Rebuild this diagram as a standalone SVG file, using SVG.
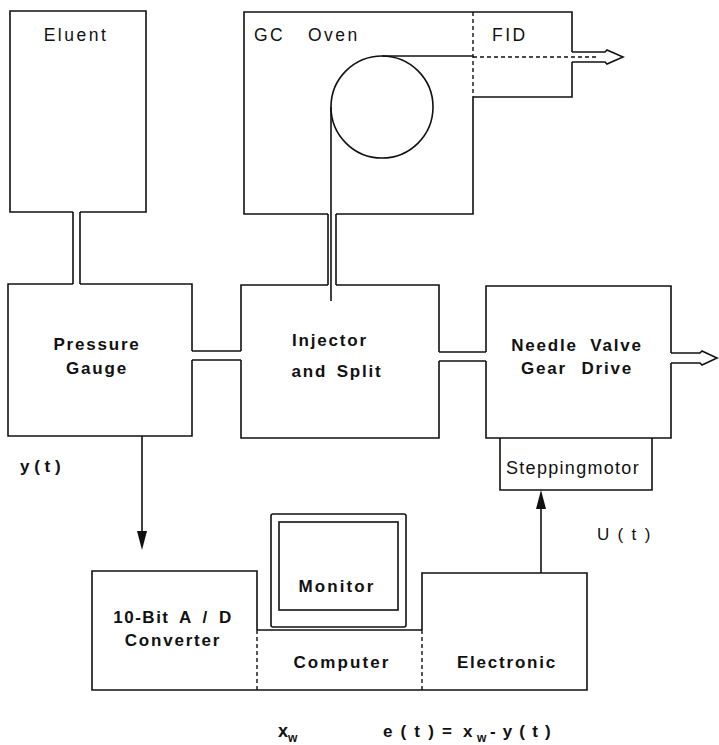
<svg xmlns="http://www.w3.org/2000/svg" width="719" height="745" viewBox="0 0 719 745">
<style>
.ln{fill:none;stroke:#111;stroke-width:1.6;stroke-linejoin:miter}
.ds{fill:none;stroke:#111;stroke-width:1.4;stroke-dasharray:4 3}
.t{font-family:"Liberation Sans",Arial,sans-serif;font-size:17px;fill:#111}
.r{letter-spacing:2.5px;font-size:17.5px}
.b{font-weight:bold;letter-spacing:1.8px}
.m{text-anchor:middle}
.ah{fill:#111;stroke:none}
</style>
<rect width="719" height="745" fill="#fff"/>
<g id="eluent">
<path class="ln" d="M73,212 H10 V11 H146 V212 H80"/>
<text class="t r m" x="76" y="41">Eluent</text>
</g>
<g id="gc-oven">
<path class="ln" d="M328,214 H244 V12 H473 M473,97 V214 H336"/>
<path class="ds" d="M473,12 V97"/>
<text class="t r" x="254" y="41">GC</text>
<text class="t r" x="308" y="41">Oven</text>
<circle class="ln" cx="382" cy="107" r="51"/>
</g>
<g id="fid">
<path class="ln" d="M473,12 H572 V52 M572,62 V97 H473"/>
<text class="t r" x="492" y="41">FID</text>
</g>
<g id="pressure-gauge">
<path class="ln" d="M73,284 H8 V436 H192 V360 M192,351 V284 H80"/>
<text class="t b m" x="97" y="350">Pressure</text>
<text class="t b m" x="97" y="374">Gauge</text>
</g>
<g id="injector">
<path class="ln" d="M241,351 V285 H328 M336,285 H439 V352 M439,361 V438 H241 V360"/>
<text class="t b m" x="330" y="346">Injector</text>
<text class="t b m" x="337" y="377" style="word-spacing:3px">and Split</text>
</g>
<g id="needle-valve">
<path class="ln" d="M486,352 V286 H671 V353 M671,363 V438 H486 V361"/>
<text class="t b m" x="577" y="351" style="word-spacing:6px">Needle Valve</text>
<text class="t b m" x="577" y="374" style="word-spacing:8px">Gear Drive</text>
</g>
<g id="steppingmotor">
<path class="ln" d="M500,438 V490 H652 V438"/>
<text class="t m" x="573" y="474" style="font-size:18px;letter-spacing:1.3px">Steppingmotor</text>
</g>
<g id="ad-converter">
<path class="ln" d="M257,630 V571 H92 V690 H257"/>
<path class="ds" d="M257,630 V690"/>
<text class="t b m" x="173" y="623" style="letter-spacing:1.5px;word-spacing:4px">10-Bit A / D</text>
<text class="t b m" x="173" y="646">Converter</text>
</g>
<g id="monitor">
<rect class="ln" x="271" y="514" width="135" height="113" rx="2"/>
<rect class="ln" x="279" y="522" width="119" height="88"/>
<text class="t b m" x="337" y="592" style="letter-spacing:2.1px">Monitor</text>
</g>
<g id="computer">
<path class="ln" d="M257,630 H422 M257,690 H422"/>
<text class="t b m" x="342" y="668" style="letter-spacing:2.1px">Computer</text>
</g>
<g id="electronic">
<path class="ln" d="M422,630 V573 H587 V690 H422"/>
<path class="ds" d="M422,630 V690"/>
<text class="t b m" x="507" y="668">Electronic</text>
</g>
<g id="connectors">
<path class="ln" d="M73,212 V284 M80,212 V284"/>
<path class="ln" d="M192,351 H241 M192,360 H241"/>
<path class="ln" d="M439,352 H486 M439,361 H486"/>
<path class="ln" d="M328,214 V285 M336,214 V285"/>
<path class="ln" d="M331,107 V301"/>
<path class="ln" d="M382,56 H473"/>
<path class="ds" d="M473,57 H596"/>
<path class="ln" d="M572,52 H605 L607,50 L623,57 L607,64 L605,62 H572"/>
<path class="ln" d="M671,353 H700 L702,351 L717,358 L702,365 L700,363 H671"/>
<path class="ln" d="M142,436 V540"/>
<polygon class="ah" points="142,550 137,531 147,531"/>
<path class="ln" d="M541,573 V500"/>
<polygon class="ah" points="541,490 536,509 546,509"/>
</g>
<g id="labels">
<text class="t" x="20" y="472" style="font-weight:bold">y ( t )</text>
<text class="t" x="597" y="540" style="letter-spacing:1.8px">U ( t )</text>
<text class="t" x="278" y="737" style="font-weight:bold;font-size:18px">x<tspan dy="5" style="font-size:12px">w</tspan></text>
<text class="t" x="383" y="737" style="font-weight:bold;letter-spacing:1.7px">e ( t ) =<tspan x="463">x</tspan><tspan x="477" dy="5" style="font-size:12px;letter-spacing:0">w</tspan><tspan x="490" dy="-5" style="letter-spacing:1.2px">- y ( t )</tspan></text>
</g>
</svg>
